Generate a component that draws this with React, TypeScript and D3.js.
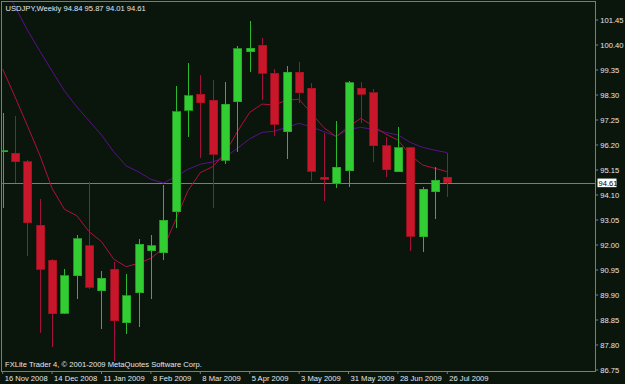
import React from "react";
import * as d3 from "d3";

const dates = [
  "16 Nov 2008", "23 Nov 2008", "30 Nov 2008", "7 Dec 2008", "14 Dec 2008", "21 Dec 2008", "28 Dec 2008",
  "4 Jan 2009", "11 Jan 2009", "18 Jan 2009", "25 Jan 2009", "1 Feb 2009", "8 Feb 2009", "15 Feb 2009",
  "22 Feb 2009", "1 Mar 2009", "8 Mar 2009", "15 Mar 2009", "22 Mar 2009", "29 Mar 2009", "5 Apr 2009",
  "12 Apr 2009", "19 Apr 2009", "26 Apr 2009", "3 May 2009", "10 May 2009", "17 May 2009", "24 May 2009",
  "31 May 2009", "7 Jun 2009", "14 Jun 2009", "21 Jun 2009", "28 Jun 2009", "5 Jul 2009", "12 Jul 2009",
  "19 Jul 2009", "26 Jul 2009",
];

const opens = [95.94, 95.85, 95.50, 92.84, 91.36, 89.13, 90.71, 91.96, 90.07, 90.99, 88.74, 90.00, 91.76, 91.68, 93.40, 97.67, 98.34, 98.09, 95.57, 98.02, 100.11, 100.39, 99.21, 96.76, 99.25, 98.59, 94.84, 94.59, 95.12, 98.59, 98.40, 96.16, 95.08, 96.09, 92.34, 94.23, 94.84];
const highs = [97.54, 97.42, 95.57, 93.93, 91.40, 90.99, 92.42, 94.66, 90.91, 91.30, 90.78, 92.26, 92.42, 94.52, 98.68, 99.64, 99.14, 98.93, 98.86, 100.36, 101.41, 100.69, 99.39, 99.52, 99.70, 98.80, 96.69, 97.21, 98.89, 98.85, 98.54, 96.52, 96.94, 96.13, 94.45, 95.28, 95.87];
const lows = [93.55, 94.59, 91.55, 88.29, 87.72, 89.10, 89.73, 90.14, 88.47, 87.13, 88.25, 88.57, 89.72, 91.37, 92.73, 96.55, 95.64, 93.54, 95.40, 95.92, 99.28, 98.09, 96.59, 95.60, 97.95, 94.70, 93.84, 94.38, 94.42, 97.11, 95.50, 94.84, 95.05, 91.76, 91.72, 93.10, 94.01];
const closes = [95.96, 95.50, 92.94, 90.99, 89.11, 90.70, 92.26, 90.22, 90.61, 88.82, 89.86, 92.04, 91.96, 93.05, 97.59, 98.26, 97.98, 95.82, 97.92, 100.24, 100.27, 99.21, 97.07, 99.25, 98.40, 95.10, 94.76, 95.26, 98.82, 98.34, 96.17, 95.16, 96.09, 92.37, 94.35, 94.73, 94.61];

const fastMA = [99.39, 98.22, 97.01, 95.78, 94.38, 93.50, 93.23, 92.56, 92.14, 91.40, 91.09, 91.23, 91.44, 91.86, 93.05, 94.28, 95.04, 95.29, 95.85, 96.76, 97.57, 97.92, 97.88, 98.09, 98.12, 97.53, 96.93, 96.55, 96.97, 97.32, 97.00, 96.66, 96.41, 95.78, 95.36, 95.22, 95.08];
const slowMA = [103.0, 102.01, 101.03, 100.15, 99.31, 98.47, 97.80, 97.21, 96.62, 95.91, 95.32, 95.07, 94.76, 94.60, 94.87, 95.18, 95.39, 95.49, 95.68, 96.06, 96.46, 96.73, 96.78, 96.94, 97.11, 96.96, 96.76, 96.57, 96.86, 96.94, 96.86, 96.73, 96.62, 96.31, 96.10, 95.98, 95.88];

const priceTicks = ["86.75", "87.80", "88.85", "89.90", "90.95", "92.00", "93.05", "94.10", "95.15", "96.20", "97.25", "98.30", "99.35", "100.40", "101.45"];
const dateTickIdx = [0, 4, 8, 12, 16, 20, 24, 28, 32, 36];

const title = "USDJPY,Weekly  94.84 95.87 94.01 94.61";
const lastPrice = "94.61";
const copyright = "FXLite Trader 4, \u00A9 2001-2009 MetaQuotes Software Corp.";

const W = 625, H = 384;
const PL = 1.5, PT = 1.5, PR = 595.7, PB = 371;
const BG = "#0a160c";
const GRID = "#7c7c7c";
const TXT = "#e6e6ee";
const BULL = "#32cd32";
const BULL_EDGE = "#25a825";
const BULL_WICK = "#2cb82c";
const BEAR = "#c8162a";
const BEAR_WICK = "#a3103e";
const FAST = "#b0103e";
const SLOW = "#5c0f8c";
const FONT = "'Liberation Sans', Arial, sans-serif";
const FS = 7.6;

export default function App() {
  const y = d3.scaleLinear().domain([86.75, 101.45]).range([370, 20]);
  const x = d3.scaleLinear().domain([0, 36]).range([2.7, 447.3]);
  const idx = d3.range(dates.length);
  const line = (vals: number[]) =>
    d3.line<number>().x((i) => x(i)).y((i) => y(vals[i]))(idx) || "";
  const bw = 8;
  const lp = +lastPrice;

  return (
    <svg width={W} height={H} style={{ position: "fixed", left: 0, top: 0, background: BG }}
      fontFamily={FONT}>
      <rect x={0} y={0} width={W} height={H} fill={BG} />
      <defs>
        <clipPath id="plot">
          <rect x={2.2} y={2} width={PR - 2.2} height={PB - 2} />
        </clipPath>
      </defs>
      <g clipPath="url(#plot)">
        <line x1={PL} x2={PR} y1={Math.round(y(lp)) + 0.5} y2={Math.round(y(lp)) + 0.5} stroke={GRID} strokeWidth={1} />
        <path d={line(slowMA)} fill="none" stroke={SLOW} strokeWidth={1} />
        <path d={line(fastMA)} fill="none" stroke={FAST} strokeWidth={1} />
        {idx.map((i) => {
          const up = closes[i] >= opens[i];
          const cx = Math.round(x(i)) + 0.5;
          const top = y(Math.max(opens[i], closes[i]));
          const bot = y(Math.min(opens[i], closes[i]));
          return (
            <g key={i} shapeRendering="crispEdges">
              <line x1={cx} x2={cx} y1={y(highs[i])} y2={y(lows[i])} stroke={up ? BULL_WICK : BEAR_WICK} strokeWidth={1} />
              <rect x={cx - bw / 2} y={top} width={bw} height={Math.max(1, bot - top)}
                fill={up ? BULL : BEAR} stroke={up ? BULL_EDGE : "#a8101f"} strokeWidth={0.8} />
            </g>
          );
        })}
      </g>
      <rect x={PL} y={PT} width={PR - PL} height={PB - PT} fill="none" stroke={GRID} strokeWidth={1} shapeRendering="crispEdges" />
      <text x={5.5} y={10.5} fill={TXT} fontSize={FS}>{title}</text>
      <text x={5} y={366.5} fill={TXT} fontSize={FS}>{copyright}</text>
      {priceTicks.map((t) => {
        const yy = y(+t);
        return (
          <g key={t}>
            <line x1={PR} x2={PR + 2.5} y1={yy} y2={yy} stroke={GRID} strokeWidth={1} />
            <text x={600.3} y={yy + 2.8} fill={TXT} fontSize={FS}>{t}</text>
          </g>
        );
      })}
      <rect x={597.5} y={y(lp) - 4.3} width={19} height={8.6} fill="#ffffff" />
      <text x={598.5} y={y(lp) + 2.8} fill="#000000" fontSize={FS}>{lastPrice}</text>
      {dateTickIdx.map((i) => {
        const xx = x(i);
        return (
          <g key={i}>
            <line x1={xx} x2={xx} y1={PB} y2={PB + 3} stroke={GRID} strokeWidth={1} />
            <text x={xx + 2} y={380.5} fill={TXT} fontSize={FS}>{dates[i]}</text>
          </g>
        );
      })}
    </svg>
  );
}
